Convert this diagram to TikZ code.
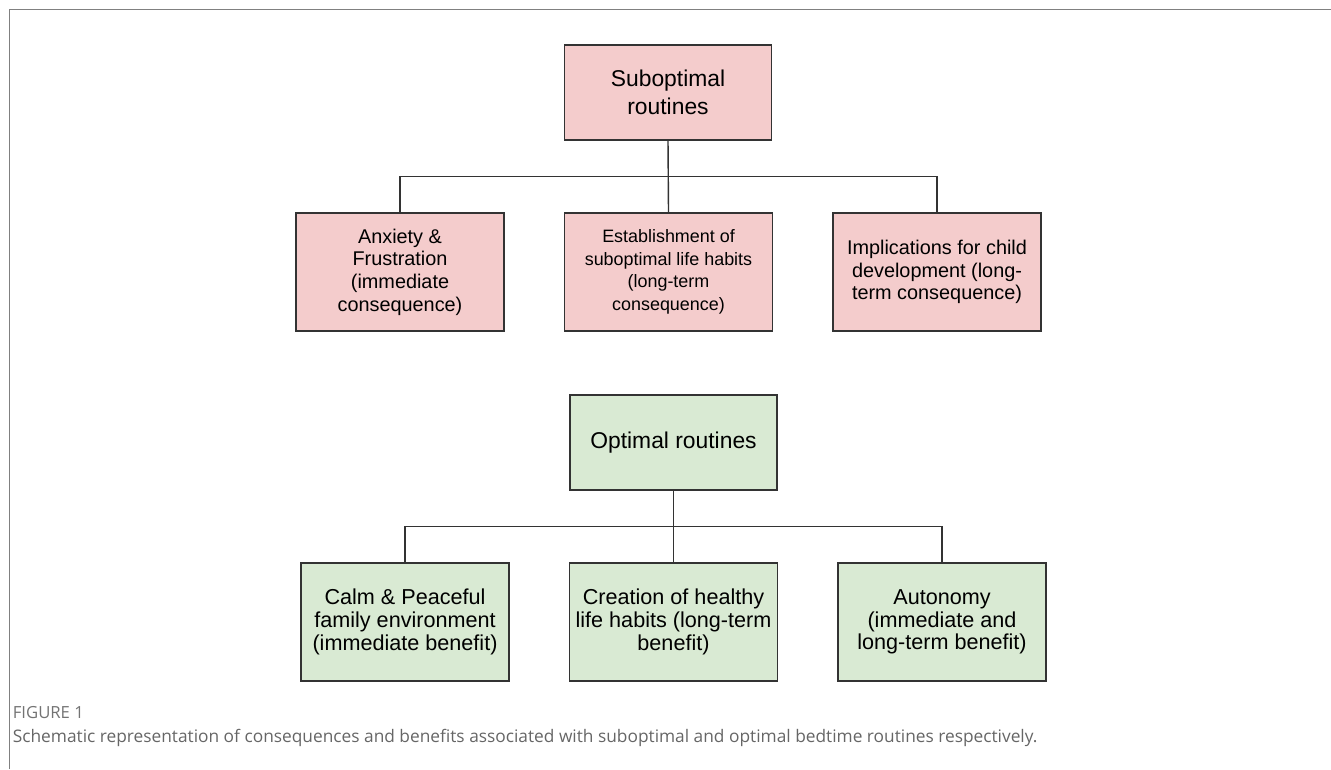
\documentclass[tikz,border=0pt]{standalone}
\usepackage{fontspec}
\setmainfont{Liberation Sans}
\newfontfamily\capfont{Open Sans}
\usepackage{tikz}
\usetikzlibrary{positioning,calc}
\definecolor{badfill}{HTML}{F4CCCC}
\definecolor{goodfill}{HTML}{D9EAD3}
\definecolor{boxline}{HTML}{333333}
\tikzset{
  headbox/.style={rectangle, draw=boxline, line width=0.8pt, align=center,
    minimum width=4.14cm, minimum height=1.9cm, inner sep=2pt,
    font=\fontsize{13}{15.6}\selectfont},
  itembox/.style={headbox, minimum width=4.16cm, minimum height=2.36cm,
    font=\fontsize{11.3}{12.9}\selectfont},
  badbox/.style={fill=badfill},
  goodbox/.style={fill=goodfill, font=\fontsize{12.3}{12.9}\selectfont},
  link/.style={draw=boxline, line width=0.8pt},
  figlabel/.style={font=\capfont\fontsize{9.5}{10}\selectfont, text=black!55, anchor=west, inner sep=0pt},
  figcaption/.style={font=\capfont\fontsize{9.85}{11}\selectfont, text=black!60, anchor=west, inner sep=0pt},
}
\begin{document}
\begin{tikzpicture}
  \useasboundingbox (0,0) rectangle (26.62,-15.38);
  % frame of the figure panel
  \draw[black!50, line width=1.1pt] (0.19,-15.38) -- (0.19,-0.19) -- (26.62,-0.19);

  % suboptimal routines
  \node[headbox, badbox] (sub) at (13.36,-1.85) {Suboptimal\\ routines};
  \node[itembox, badbox] (anx) at (8.0,-5.44) {Anxiety \&\\ Frustration\\ (immediate\\ consequence)};
  \node[itembox, badbox, font=\fontsize{10.2}{12.9}\selectfont] (est) at (13.37,-5.44) {Establishment of\\ suboptimal life habits\\ (long-term\\ consequence)};
  \node[itembox, badbox] (imp) at (18.74,-5.44) {Implications for child\\ development (long-\\ term consequence)};
  \coordinate (subbus) at ($(sub.south)!0.5!(est.north)$);
  \draw[link] (sub.south) -- (est.north);
  \draw[link] (anx.north) |- (subbus) -| (imp.north);

  % optimal routines
  \node[headbox, fill=goodfill] (opt) at (13.47,-8.85) {Optimal routines};
  \node[itembox, goodbox] (calm) at (8.1,-12.44) {Calm \& Peaceful\\ family environment\\ (immediate benefit)};
  \node[itembox, goodbox] (hab) at (13.47,-12.44) {Creation of healthy\\ life habits (long-term\\ benefit)};
  \node[itembox, goodbox] (aut) at (18.84,-12.44) {Autonomy\\ (immediate and\\ long-term benefit)};
  \coordinate (optbus) at ($(opt.south)!0.5!(hab.north)$);
  \draw[link] (opt.south) -- (hab.north);
  \draw[link] (calm.north) |- (optbus) -| (aut.north);

  % caption
  \node[figlabel] (fig) at (0.25,-14.26) {FIGURE 1};
  \node[figcaption] (cap) at (0.25,-14.76) {Schematic representation of consequences and benefits associated with suboptimal and optimal bedtime routines respectively.};
\end{tikzpicture}
\end{document}
